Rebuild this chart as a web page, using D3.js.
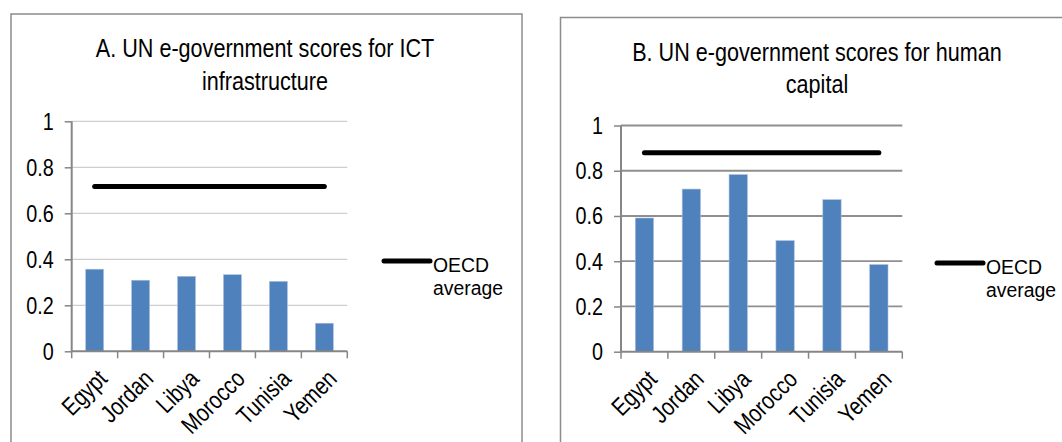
<!DOCTYPE html>
<html>
<head>
<meta charset="utf-8">
<script src="https://cdn.jsdelivr.net/npm/d3@7"></script>
<style>
  html, body { margin: 0; padding: 0; background: #fff; }
  svg { display: block; }
  text { font-family: "Liberation Sans", Arial, sans-serif; fill: #000; }
</style>
</head>
<body>
<svg id="chart" width="1062" height="442"></svg>
<script>
// Countries shown on both panels
const countries = ["Egypt", "Jordan", "Libya", "Morocco", "Tunisia", "Yemen"];

// Panel A: ICT infrastructure scores
const ictScores = [0.357, 0.309, 0.326, 0.333, 0.304, 0.122];
const ictOecd = 0.716;

// Panel B: human capital scores
const humanCapitalScores = [0.591, 0.719, 0.783, 0.491, 0.672, 0.385];
const humanCapitalOecd = 0.880;

const yTicks = [0, 0.2, 0.4, 0.6, 0.8, 1];
const yTickLabels = ["0", "0.2", "0.4", "0.6", "0.8", "1"];
const legendLines = ["OECD", "average"];
const titlesA = ["A. UN e-government scores for ICT", "infrastructure"];
const titlesB = ["B. UN e-government scores for human", "capital"];

const svg = d3.select("#chart");
const SX = 0.9;  // narrow face: horizontal squeeze
const SY = 1.1;  // and slightly taller glyphs

function label(g, x, y, str, size, anchor, rot, sx = SX, sy = SY) {
  return g.append("text")
    .attr("transform", `translate(${x},${y})` + (rot ? ` rotate(${rot})` : "") + ` scale(${sx},${sy})`)
    .attr("text-anchor", anchor)
    .style("font-size", size + "px")
    .text(str);
}

function panel(cfg) {
  const g = svg.append("g");

  // outer frame
  g.append("rect")
    .attr("x", cfg.frame[0]).attr("y", cfg.frame[1])
    .attr("width", cfg.frame[2]).attr("height", cfg.frame[3])
    .attr("fill", "none").attr("stroke", "#8c8c8c").attr("stroke-width", 1.5);

  // title
  cfg.title.forEach((t, i) => label(g, cfg.titleX, cfg.titleY[i], t, 24, "middle"));

  const x = d3.scaleBand().domain(countries)
    .range([cfg.left, cfg.right]).paddingInner(0.61).paddingOuter(0.305);
  const y = d3.scaleLinear().domain([0, 1]).range([cfg.bottom, cfg.top]);

  // gridlines
  g.append("g").selectAll("line").data(yTicks.filter(d => d > 0)).join("line")
    .attr("x1", cfg.left).attr("x2", cfg.right)
    .attr("y1", d => y(d)).attr("y2", d => y(d))
    .attr("stroke", cfg.gridColor).attr("stroke-width", cfg.gridWidth);

  // bars
  g.append("g").selectAll("rect").data(cfg.values).join("rect")
    .attr("x", (d, i) => x(countries[i]))
    .attr("width", x.bandwidth())
    .attr("y", d => y(d))
    .attr("height", d => y(0) - y(d))
    .attr("fill", "#4f81bd")
    .attr("stroke", "#a7bfde").attr("stroke-width", 0.6);

  // y axis
  const yAxis = g.append("g").attr("transform", `translate(${cfg.left},0)`)
    .call(d3.axisLeft(y).tickValues(yTicks).tickSize(7).tickFormat(() => ""));
  yAxis.select(".domain").remove();
  yAxis.selectAll(".tick line").attr("stroke", "#868686").attr("stroke-width", 1.5);
  g.append("line").attr("x1", cfg.left).attr("x2", cfg.left)
    .attr("y1", y(1)).attr("y2", y(0))
    .attr("stroke", "#868686").attr("stroke-width", 2);
  yTicks.forEach((v, i) => label(g, cfg.left - 18, y(v) + 8.5, yTickLabels[i], 22, "end"));

  // x axis with ticks at category boundaries
  g.append("line").attr("x1", cfg.left).attr("x2", cfg.right)
    .attr("y1", y(0)).attr("y2", y(0))
    .attr("stroke", "#868686").attr("stroke-width", 2);
  const step = x.step();
  g.append("g").selectAll("line").data(d3.range(countries.length + 1)).join("line")
    .attr("x1", i => cfg.left + i * step).attr("x2", i => cfg.left + i * step)
    .attr("y1", y(0)).attr("y2", y(0) + 7)
    .attr("stroke", "#868686").attr("stroke-width", 1.5);
  countries.forEach(c => {
    const cx = x(c) + x.bandwidth() / 2;
    label(g, cx + 14, y(0) + 29, c, 22.5, "end", -45);
  });

  // OECD average line across categories
  const line = d3.line().x(d => x(d) + x.bandwidth() / 2).y(() => y(cfg.oecd));
  g.append("path").datum(countries).attr("d", line)
    .attr("fill", "none").attr("stroke", "#000").attr("stroke-width", 5)
    .attr("stroke-linecap", "round");

  // legend
  g.append("line").attr("x1", cfg.legend[0]).attr("x2", cfg.legend[0] + 46)
    .attr("y1", cfg.legend[1]).attr("y2", cfg.legend[1])
    .attr("stroke", "#000").attr("stroke-width", 5).attr("stroke-linecap", "round");
  legendLines.forEach((t, i) =>
    label(g, cfg.legend[0] + 49, cfg.legend[1] + 11 + i * 23, t, 20, "start", 0, 0.97, 1.05));
}

panel({
  frame: [11, 14, 511, 440],
  title: titlesA, titleX: 265, titleY: [57, 90],
  left: 71.7, right: 347.3, top: 121.3, bottom: 351.3,
  values: ictScores, oecd: ictOecd,
  gridColor: "#c4c4c4", gridWidth: 1,
  legend: [384, 261]
});

panel({
  frame: [560.5, 17.5, 520, 440],
  title: titlesB, titleX: 817, titleY: [61, 93],
  left: 621, right: 902.3, top: 125.5, bottom: 351.7,
  values: humanCapitalScores, oecd: humanCapitalOecd,
  gridColor: "#8f8f8f", gridWidth: 1.8,
  legend: [937, 263]
});
</script>
</body>
</html>
